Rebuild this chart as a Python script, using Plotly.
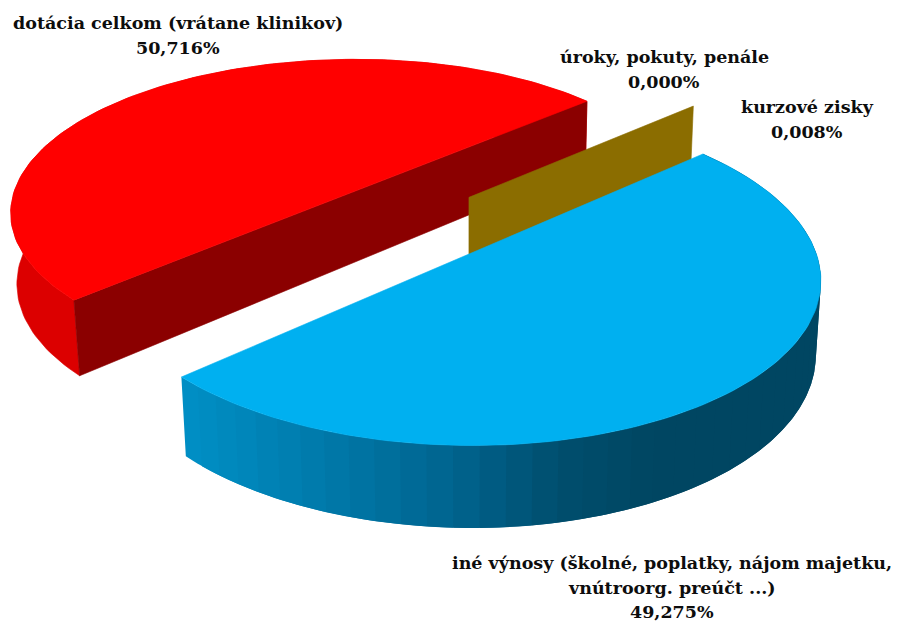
import math
import plotly.graph_objects as go

# ---- data ----
labels = [["dotácia celkom (vrátane klinikov)"],
          ["iné výnosy (školné, poplatky, nájom majetku,", "vnútroorg. preúčt ...)"],
          ["kurzové zisky"],
          ["úroky, pokuty, penále"]]
values = [50.716, 49.275, 0.008, 0.000]

# ---- drawing style / projection set-up ----
W, H = 898, 622
V1 = (3125, -882)      # vanishing point along the slice diameter
V2 = (-1756, -882)     # vanishing point towards the viewer
V3 = (468, 5500)       # vanishing point of vertical edges
C = (468, 252)         # pie centre in pixels
KA, KB, KD = 0.097, -0.109, 0.01416
RED_OFFSET = (0.01, -0.53)
BLUE_OFFSET = (-0.012, -0.012)
BROWN_OFFSET = (0.24, -0.251)
LABEL_POS = [(178, 23), (672, 563), (807, 107), (664, 57)]
LINE_STEP = 24.5
FONT = dict(family="DejaVu Serif", size=17.5, color="#0d0d0d")
BLUE_STOPS = [(180, (0, 144, 198)), (300, (0, 125, 175)), (450, (0, 100, 143)),
              (560, (0, 78, 110)), (650, (0, 70, 98)), (830, (0, 70, 98))]


def proj(x, y, z=0.0):
    a, b, d = KA * x, KB * y, KD * z
    den = 1 + a + b + d
    px = (a * V1[0] + b * V2[0] + d * V3[0] + C[0]) / den
    py = (a * V1[1] + b * V2[1] + d * V3[1] + C[1]) / den
    return px, py


def arc(offset, t0, t1, z=0.0, n=120):
    pts = []
    for i in range(n + 1):
        t = math.radians(t0 + (t1 - t0) * i / n)
        pts.append(proj(offset[0] + math.cos(t), offset[1] + math.sin(t), z))
    return pts


def poly(fig, pts, color, edge=0.6):
    xs = [p[0] for p in pts] + [pts[0][0]]
    ys = [p[1] for p in pts] + [pts[0][1]]
    fig.add_trace(go.Scatter(x=xs, y=ys, mode="lines", fill="toself", fillcolor=color,
                             line=dict(color=color, width=edge), hoverinfo="skip",
                             showlegend=False))


def shade(px):
    for (x0, c0), (x1, c1) in zip(BLUE_STOPS, BLUE_STOPS[1:]):
        if px <= x1:
            f = max(0.0, (px - x0) / (x1 - x0))
            return "rgb(%d,%d,%d)" % tuple(round(c0[i] + (c1[i] - c0[i]) * f) for i in range(3))
    return "rgb(0,70,98)"


total = sum(values)
sweep_red, sweep_blue, sweep_brown, sweep_zero = [360 * v / total for v in values]
blue_start = (180 - sweep_blue) / 2
blue_end = blue_start + sweep_blue
red_start = blue_end
red_end = red_start + sweep_red

fig = go.Figure()

# red slice
poly(fig, arc(RED_OFFSET, red_start, red_end) + arc(RED_OFFSET, red_end, red_start, 1.0), "#DC0000")
rim = arc(RED_OFFSET, red_start, red_end, 0.0, 1)
rim_low = arc(RED_OFFSET, red_start, red_end, 1.0, 1)
poly(fig, [rim[0], rim[1], rim_low[1], rim_low[0]], "#8B0000")
poly(fig, arc(RED_OFFSET, red_start, red_end), "#FF0000")

# brown sliver (only its radial wall can be seen)
b_top = proj(*BROWN_OFFSET)
b_bot = proj(BROWN_OFFSET[0], BROWN_OFFSET[1], 1.0)
poly(fig, [b_top, arc(BROWN_OFFSET, -sweep_brown, -sweep_brown, 0.0, 1)[0],
           arc(BROWN_OFFSET, -sweep_brown, -sweep_brown, 1.0, 1)[0], b_bot], "#8B6D00")

# blue slice: bands painted left to right, each overlapping the next one
bands = 48
for i in range(bands):
    t0 = blue_end - sweep_blue * i / bands
    t1 = max(blue_start, blue_end - sweep_blue * (i + 2) / bands)
    top = arc(BLUE_OFFSET, t0, t1, 0.0, 8)
    bot = arc(BLUE_OFFSET, t1, t0, 1.0, 8)
    mid = arc(BLUE_OFFSET, t0, blue_end - sweep_blue * (i + 1) / bands, 0.0, 1)
    poly(fig, top + bot, shade((mid[0][0] + mid[1][0]) / 2), edge=0)
poly(fig, arc(BLUE_OFFSET, blue_start, blue_end), "#00B0F0")

for name, val, (lx, ly) in zip(labels, values, LABEL_POS):
    pct = f"{val:.3f}".replace(".", ",") + "%"
    for k, line in enumerate(name + [pct]):
        fig.add_annotation(x=lx, y=ly + k * LINE_STEP, xref="x", yref="y", showarrow=False,
                           text=f"<b>{line}</b>", font=FONT)

fig.update_layout(width=W, height=H, margin=dict(l=0, r=0, t=0, b=0),
                  paper_bgcolor="white", plot_bgcolor="white", showlegend=False,
                  xaxis=dict(range=[0, W], visible=False, fixedrange=True),
                  yaxis=dict(range=[H, 0], visible=False, fixedrange=True))
fig.write_html("out.html", config={"displayModeBar": False},
               post_script="document.body.style.margin='0';")
